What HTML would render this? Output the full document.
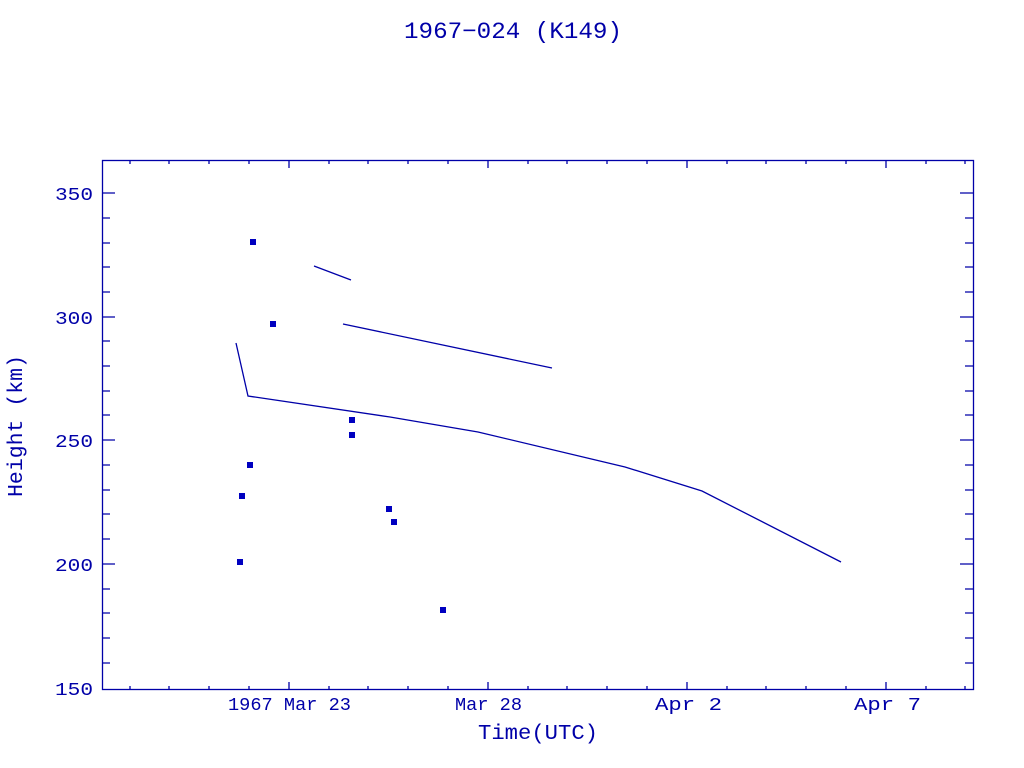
<!DOCTYPE html>
<html><head><style>body{margin:0;background:#fff}</style></head><body>
<svg width="1024" height="768" xmlns="http://www.w3.org/2000/svg" style="display:block">
<g font-family="Liberation Mono, monospace" fill="#0000a8">
<text x="404" y="38" font-size="23" textLength="218" lengthAdjust="spacingAndGlyphs">1967−024 (K149)</text>
<text x="478" y="739" font-size="21" textLength="120" lengthAdjust="spacingAndGlyphs">Time(UTC)</text>
<text x="22" y="497" font-size="21" textLength="142" lengthAdjust="spacingAndGlyphs" transform="rotate(-90 22 497)">Height (km)</text>
<g font-size="18">
<text x="55" y="200" textLength="38" lengthAdjust="spacingAndGlyphs">350</text>
<text x="55" y="324" textLength="38" lengthAdjust="spacingAndGlyphs">300</text>
<text x="55" y="447" textLength="38" lengthAdjust="spacingAndGlyphs">250</text>
<text x="55" y="571" textLength="38" lengthAdjust="spacingAndGlyphs">200</text>
<text x="55" y="695" textLength="38" lengthAdjust="spacingAndGlyphs">150</text>
<text x="228" y="710" textLength="123" lengthAdjust="spacingAndGlyphs">1967 Mar 23</text>
<text x="455" y="710" textLength="67" lengthAdjust="spacingAndGlyphs">Mar 28</text>
<text x="655" y="710" textLength="67" lengthAdjust="spacingAndGlyphs">Apr  2</text>
<text x="854" y="710" textLength="67" lengthAdjust="spacingAndGlyphs">Apr  7</text>
</g></g>
<g stroke="#0000a8" stroke-width="1.3" fill="none">
<rect x="102.5" y="160.5" width="871" height="529"/>
<path d="
M102 193h13M102 218h8M102 243h8M102 267h8M102 292h8M102 317h13M102 341h8M102 366h8M102 391h8M102 415h8M102 440h13M102 465h8M102 490h8M102 514h8M102 539h8M102 564h13M102 589h8M102 613h8M102 638h8M102 663h8
M973 193h-13M973 218h-8M973 243h-8M973 267h-8M973 292h-8M973 317h-13M973 341h-8M973 366h-8M973 391h-8M973 415h-8M973 440h-13M973 465h-8M973 490h-8M973 514h-8M973 539h-8M973 564h-13M973 589h-8M973 613h-8M973 638h-8M973 663h-8"/>
<path d="M130 690v-4M169 690v-4M209 690v-4M249 690v-4M289 690v-8M329 690v-4M368 690v-4M408 690v-4M448 690v-4M488 690v-8M528 690v-4M567 690v-4M607 690v-4M647 690v-4M687 690v-8M727 690v-4M766 690v-4M806 690v-4M846 690v-4M886 690v-8M926 690v-4M965 690v-4
M130 160v4M169 160v4M209 160v4M249 160v4M289 160v8M329 160v4M368 160v4M408 160v4M448 160v4M488 160v8M528 160v4M567 160v4M607 160v4M647 160v4M687 160v8M727 160v4M766 160v4M806 160v4M846 160v4M886 160v8M926 160v4M965 160v4"/>
<path d="M314 266L351 280M343 324L552 368M236 343L248 396L390 417L478 432L625 467L702 491L841 562"/>
</g>
<g fill="#0000c0">
<rect x="250" y="239" width="6" height="6"/><rect x="270" y="321" width="6" height="6"/><rect x="247" y="462" width="6" height="6"/><rect x="239" y="493" width="6" height="6"/><rect x="237" y="559" width="6" height="6"/><rect x="349" y="417" width="6" height="6"/><rect x="349" y="432" width="6" height="6"/><rect x="386" y="506" width="6" height="6"/><rect x="391" y="519" width="6" height="6"/><rect x="440" y="607" width="6" height="6"/>
</g>
</svg>
</body></html>
